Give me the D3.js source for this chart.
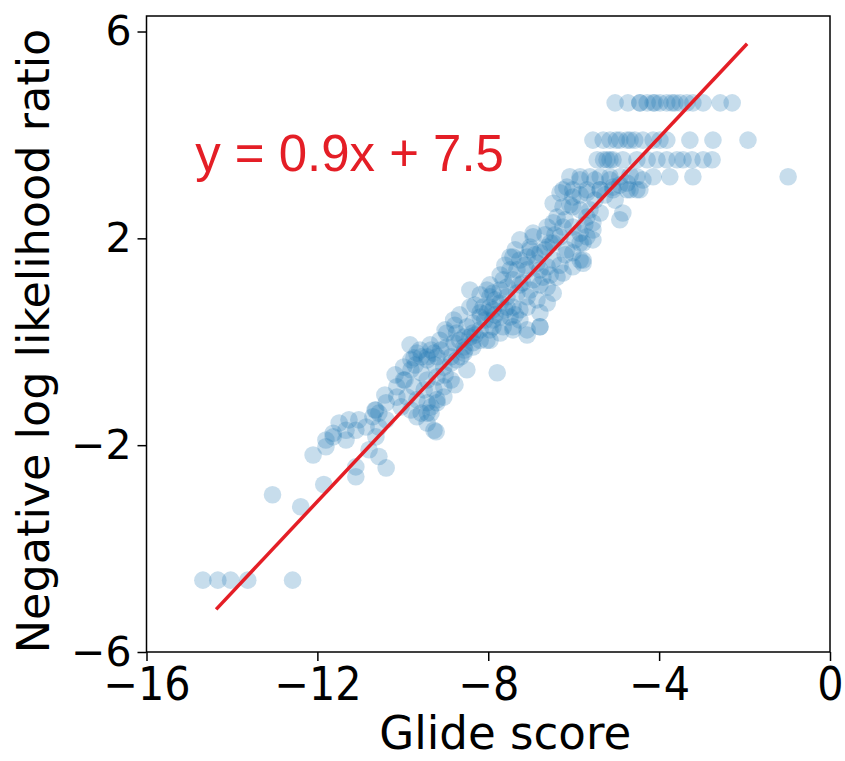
<!DOCTYPE html>
<html>
<head>
<meta charset="utf-8">
<script src="https://cdn.jsdelivr.net/npm/d3@7"></script>
<style>
  body { margin: 0; background: #fff; }
  text { font-family: "DejaVu Sans", sans-serif; }
</style>
</head>
<body>
<div id="chart"></div>
<script>
// Axis settings
const xTicks = [-16, -12, -8, -4, 0];
const yTicks = [6, 2, -2, -6];
const xLabel = 'Glide score';
const yLabel = 'Negative log likelihood ratio';

// Fitted line
const fitSlope = 0.88;
const fitIntercept = 7.47;
const fitRange = [-14.37, -1.94];
const fitText = 'y = 0.9x + 7.5';

// Docking points: [glide score, negative log likelihood ratio]
const topRows = [
  [-5.03, 4.62], [-4.73, 4.62], [-4.45, 4.62], [-4.45, 4.62], [-4.28, 4.62], [-4.14, 4.62], [-4.10, 4.62],
  [-3.98, 4.62], [-3.82, 4.62], [-3.70, 4.62], [-3.63, 4.62], [-3.51, 4.62], [-3.35, 4.62], [-3.21, 4.62],
  [-2.97, 4.62], [-2.57, 4.62], [-2.29, 4.62],
  [-5.55, 3.90], [-5.31, 3.90], [-5.15, 3.90], [-5.00, 3.90], [-4.92, 3.90], [-4.75, 3.90], [-4.68, 3.90],
  [-4.57, 3.90], [-4.38, 3.90], [-4.14, 3.90], [-3.98, 3.90], [-3.82, 3.90], [-3.28, 3.90], [-2.74, 3.90],
  [-1.92, 3.90],
  [-5.45, 3.52], [-5.30, 3.52], [-5.22, 3.52], [-5.15, 3.52], [-5.08, 3.52], [-4.85, 3.52], [-4.52, 3.52],
  [-4.28, 3.52], [-4.05, 3.52], [-3.82, 3.52], [-3.58, 3.52], [-3.44, 3.52], [-3.23, 3.52], [-2.97, 3.52],
  [-2.76, 3.52],
  [-6.09, 3.19], [-5.85, 3.19], [-5.62, 3.19], [-5.38, 3.19], [-5.15, 3.19], [-4.92, 3.19], [-4.52, 3.19],
  [-4.14, 3.19], [-3.75, 3.19], [-3.21, 3.19], [-0.98, 3.19],
  [-6.25, 2.94], [-6.02, 2.94], [-5.69, 2.94], [-5.38, 2.94], [-5.08, 2.94], [-4.75, 2.94], [-4.45, 2.94]
];

const upperBand = [
  [-6.16, 2.99], [-6.02, 2.80], [-5.85, 3.13], [-5.69, 2.88], [-5.38, 2.94], [-5.08, 2.99], [-4.75, 3.07],
  [-4.52, 2.94], [-4.38, 3.13], [-4.85, 2.49], [-4.92, 2.36], [-5.38, 2.49], [-5.55, 2.30], [-6.32, 2.88],
  [-6.48, 2.68], [-6.25, 2.61], [-6.02, 2.61], [-5.85, 2.55], [-5.69, 2.41], [-5.55, 2.16], [-5.85, 2.10],
  [-5.78, 1.91], [-6.02, 2.22], [-6.25, 2.22], [-6.39, 2.41], [-6.48, 2.30], [-6.62, 2.22], [-6.32, 2.03],
  [-6.48, 1.91], [-6.62, 1.83], [-6.79, 1.72], [-6.95, 2.03], [-7.02, 1.83], [-6.86, 1.52], [-7.09, 1.64],
  [-7.26, 1.58], [-7.33, 1.39], [-7.09, 1.39], [-6.79, 1.39], [-6.62, 1.45], [-6.48, 1.58], [-5.85, 1.58],
  [-5.78, 1.58], [-6.02, 1.72], [-6.16, 1.78], [-5.85, 1.91], [-5.69, 2.03], [-5.55, 1.97], [-7.26, 1.97],
  [-6.95, 2.10], [-7.49, 1.64], [-7.42, 1.64], [-7.02, 1.78], [-6.55, 1.91], [-5.78, 1.52], [-6.02, 1.45],
  [-6.67, 1.78], [-6.44, 2.07], [-6.20, 2.36], [-6.09, 2.65], [-5.85, 2.84], [-6.67, 2.07], [-6.91, 1.68],
  [-7.14, 1.48], [-7.37, 1.78], [-7.61, 1.48], [-6.32, 1.48], [-6.20, 1.68], [-5.97, 1.97], [-5.74, 2.26],
  [-5.62, 2.55], [-5.50, 2.74], [-5.27, 2.84], [-5.03, 2.74], [-5.15, 3.13], [-5.50, 3.13], [-4.92, 3.03],
  [-4.68, 2.94], [-4.68, 3.22]
];

const middleBand = [
  [-7.42, 1.20], [-7.19, 1.14], [-6.95, 1.20], [-6.72, 1.25], [-6.62, 1.06], [-6.48, 0.94], [-6.39, 1.25],
  [-6.25, 1.33], [-7.56, 1.06], [-7.72, 1.00], [-7.89, 0.94], [-7.56, 0.87], [-7.33, 0.94], [-7.09, 0.87],
  [-6.86, 0.81], [-6.62, 0.75], [-6.79, 0.56], [-7.09, 0.67], [-7.26, 0.62], [-7.42, 0.67], [-7.56, 0.67],
  [-7.72, 0.75], [-7.96, 0.87], [-8.12, 0.67], [-7.89, 0.62], [-7.72, 0.48], [-7.49, 0.48], [-7.26, 0.42],
  [-7.09, 0.23], [-6.79, 0.29], [-7.42, 0.29], [-7.65, 0.29], [-7.89, 0.42], [-8.03, 0.56], [-8.19, 0.48],
  [-8.36, 0.36], [-8.19, 0.23], [-7.96, 0.23], [-7.72, 0.17], [-8.36, 0.17], [-8.50, 0.29], [-8.57, 0.09],
  [-8.74, 0.17], [-8.80, -0.02], [-8.57, -0.10], [-8.36, -0.02], [-8.19, 0.03], [-7.96, 0.03], [-8.97, -0.10],
  [-9.11, -0.16], [-9.27, -0.22], [-9.43, -0.29], [-9.57, -0.29], [-8.87, -0.29], [-8.64, -0.29], [-9.74, -0.31],
  [-7.79, -0.60], [-7.09, 0.13], [-7.42, 0.23], [-8.03, 1.00], [-7.65, 1.20], [-6.79, 0.29],
  [-8.81, 0.42], [-8.97, 0.17], [-8.67, 0.03], [-8.43, 0.09], [-8.19, 0.56], [-8.43, 0.67], [-7.96, 0.67],
  [-7.89, 0.29], [-8.03, 0.03], [-8.36, -0.10], [-8.57, -0.22], [-8.74, -0.35], [-8.50, -0.54], [-8.87, -0.41],
  [-8.43, 1.00], [-8.19, 0.91], [-7.96, 1.10], [-7.72, 1.29], [-7.49, 1.39], [-7.26, 1.10], [-7.02, 1.00],
  [-6.79, 1.10], [-6.55, 1.29], [-8.31, 0.71], [-8.08, 0.42], [-7.84, 0.52], [-7.61, 0.62], [-7.37, 0.52],
  [-8.67, 0.52], [-8.78, 0.32], [-9.01, 0.23], [-9.13, 0.03], [-9.36, -0.06], [-9.60, -0.16], [-9.83, -0.06],
  [-8.55, -0.16], [-8.31, 0.13], [-7.84, 0.81]
];

const lowerBand = [
  [-9.04, -0.49], [-9.20, -0.29], [-9.34, -0.16], [-9.43, -0.35], [-9.67, -0.22], [-9.81, -0.35], [-9.98, -0.49],
  [-9.81, -0.54], [-9.57, -0.60], [-9.43, -0.74], [-9.20, -0.68], [-9.04, -0.87], [-9.27, -0.93], [-9.50, -0.93],
  [-9.74, -0.87], [-9.98, -0.74], [-10.14, -0.87], [-9.90, -1.07], [-9.67, -1.12], [-9.43, -1.18], [-9.20, -1.18],
  [-9.34, -1.38], [-9.57, -1.38], [-9.81, -1.32], [-10.04, -1.26], [-10.14, -1.07], [-9.27, -1.71], [-9.04, -1.07],
  [-8.87, -0.74], [-10.56, -1.38], [-10.39, -1.18], [-9.34, -1.26], [-9.20, -1.12], [-9.43, -1.38], [-9.43, -1.57],
  [-9.22, -1.74], [-9.67, -1.45], [-9.71, -0.45], [-9.25, -0.45], [-9.01, -0.64], [-8.78, -0.83],
  [-9.95, -0.74], [-10.18, -0.64], [-10.42, -1.03], [-10.65, -1.32],
  [-11.49, -1.57], [-11.26, -1.51], [-11.03, -1.51], [-10.86, -1.65], [-11.10, -1.71], [-11.33, -1.71],
  [-11.63, -1.77], [-11.80, -1.90], [-10.70, -1.45], [-10.56, -1.65], [-10.39, -1.51], [-10.63, -1.32],
  [-11.63, -1.84], [-11.80, -2.03], [-12.10, -2.19], [-11.33, -1.90], [-10.79, -2.09], [-10.56, -2.22],
  [-10.39, -2.44], [-11.10, -2.42], [-11.10, -2.61], [-10.63, -1.84],
  [-11.85, -2.76], [-12.39, -3.19], [-13.05, -2.96],
  [-14.68, -4.61], [-14.33, -4.61], [-14.03, -4.61], [-13.63, -4.61], [-12.58, -4.61]
];

const points = [...topRows, ...upperBand, ...middleBand, ...lowerBand];

// Layout
const width = 845, height = 761;
const margin = { top: 16, right: 15, bottom: 109, left: 146.5 };
const innerW = width - margin.left - margin.right;
const innerH = height - margin.top - margin.bottom;

const svg = d3.select('#chart')
  .append('svg')
  .attr('width', width)
  .attr('height', height);

const g = svg.append('g')
  .attr('transform', `translate(${margin.left},${margin.top})`);

const x = d3.scaleLinear().domain([-16, 0]).range([0, innerW]);
const y = d3.scaleLinear().domain([-6, 6.3]).range([innerH, 0]);

g.append('clipPath').attr('id', 'clip')
  .append('rect').attr('width', innerW).attr('height', innerH);

// Scatter points
g.append('g')
  .attr('clip-path', 'url(#clip)')
  .selectAll('circle')
  .data(points)
  .join('circle')
  .attr('cx', d => x(d[0]))
  .attr('cy', d => y(d[1]))
  .attr('r', 8.8)
  .attr('fill', '#1f77b4')
  .attr('fill-opacity', 0.25);

// Fit line
g.append('line')
  .attr('x1', x(fitRange[0]))
  .attr('y1', y(fitSlope * fitRange[0] + fitIntercept))
  .attr('x2', x(fitRange[1]))
  .attr('y2', y(fitSlope * fitRange[1] + fitIntercept))
  .attr('stroke', '#e41e26')
  .attr('stroke-width', 3.5);

// Equation text
const eqX = x(-14.86), eqY = y(3.3);
g.append('text')
  .attr('transform', `translate(${eqX},${eqY}) scale(0.98,1)`)
  .attr('fill', '#e41e26')
  .style('font-family', '"Liberation Sans", Arial, sans-serif')
  .style('font-size', '52px')
  .text(fitText);

// Axes
const xAxis = g.append('g')
  .attr('transform', `translate(0,${innerH})`)
  .call(d3.axisBottom(x).tickValues(xTicks).tickSize(9).tickPadding(6).tickFormat(d3.format('d')));

const yAxis = g.append('g')
  .call(d3.axisLeft(y).tickValues(yTicks).tickSize(9).tickPadding(6).tickFormat(d3.format('d')));

[xAxis, yAxis].forEach(a => {
  a.select('.domain').remove();
  a.selectAll('line').attr('stroke', '#000').attr('stroke-width', 1.5);
  a.selectAll('text')
    .attr('fill', '#000')
    .style('font-family', '"DejaVu Sans", sans-serif');
});
yAxis.selectAll('text').style('font-size', '41px');
// x tick labels are a bit taller and narrower in the original
xAxis.selectAll('.tick text')
  .style('font-size', '46px')
  .attr('transform', 'scale(0.9,1)');

// Frame
g.append('rect')
  .attr('width', innerW)
  .attr('height', innerH)
  .attr('fill', 'none')
  .attr('stroke', '#000')
  .attr('stroke-width', 1.5);

// Axis labels
svg.append('text')
  .attr('transform', `translate(${margin.left + innerW / 2 + 17},749) scale(0.96,1)`)
  .attr('text-anchor', 'middle')
  .style('font-size', '47px')
  .text(xLabel);

svg.append('text')
  .attr('transform', `translate(49,341) rotate(-90)`)
  .attr('text-anchor', 'middle')
  .style('font-size', '44.5px')
  .text(yLabel);
</script>
</body>
</html>
